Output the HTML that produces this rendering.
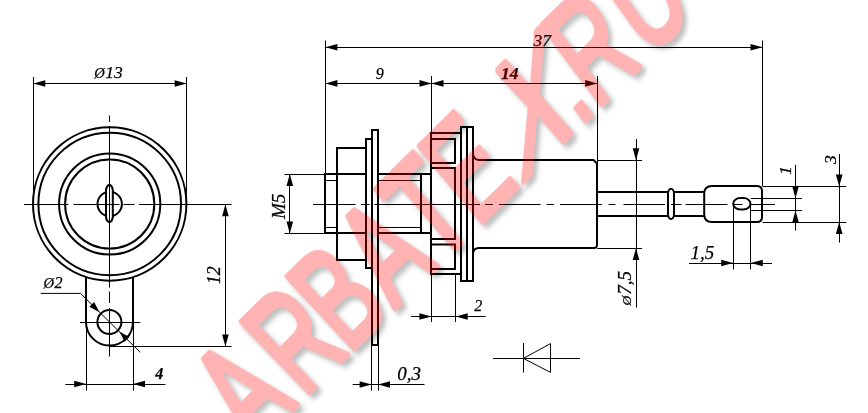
<!DOCTYPE html>
<html><head><meta charset="utf-8"><title>drawing</title>
<style>
html,body{margin:0;padding:0;background:#fff;}
body{width:868px;height:413px;overflow:hidden;position:relative;}
.wm{position:absolute;left:0;top:0;width:868px;height:413px;overflow:hidden;pointer-events:none;}
.wl{position:absolute;left:0;top:0;width:700px;height:200px;transform-origin:0 0;}
svg{display:block;}
#dw{will-change:transform;}
svg text.d{font-family:"Liberation Serif",serif;font-style:italic;fill:#000;stroke:#000;stroke-width:0.25px;}
svg text.w{font-family:"Liberation Sans",sans-serif;font-style:normal;}
</style></head><body>
<svg id="dw" width="868" height="413" viewBox="0 0 868 413" fill="none" stroke="#000" stroke-linecap="butt">
<rect x="0" y="0" width="868" height="413" fill="#fff" stroke="none"/>
<circle cx="109.7" cy="204.0" r="76.7" stroke-width="2.0"/>
<circle cx="109.7" cy="204.0" r="71.3" stroke-width="2.0"/>
<circle cx="109.7" cy="204.0" r="50.6" stroke-width="2.0"/>
<circle cx="109.7" cy="204.0" r="44.6" stroke-width="2.0"/>
<circle cx="109.7" cy="204.0" r="12.2" stroke-width="2.0"/>
<path d="M106 190 Q106.2 186 109.4 184.6 Q112.6 186 112.8 190 V217 Q112.6 221 109.4 222.4 Q106.2 221 106 217 Z" stroke-width="2.0" fill="#fff"/>
<line x1="24" y1="204.5" x2="68.5" y2="204.5" stroke-width="1.0" />
<line x1="73.5" y1="204.5" x2="119.5" y2="204.5" stroke-width="1.0" />
<line x1="123.5" y1="204.5" x2="134.5" y2="204.5" stroke-width="1.0" />
<line x1="139" y1="204.5" x2="231.5" y2="204.5" stroke-width="1.0" />
<line x1="109.5" y1="115.5" x2="109.5" y2="122" stroke-width="1.0" />
<line x1="109.5" y1="126" x2="109.5" y2="287.5" stroke-width="1.0" />
<line x1="109.5" y1="291.5" x2="109.5" y2="303" stroke-width="1.0" />
<line x1="109.5" y1="308" x2="109.5" y2="356.5" stroke-width="1.0" />
<path d="M86 277 V322 A23.5 23.5 0 0 0 133 322 V277" stroke-width="2.0"/>
<circle cx="109.4" cy="322" r="12" stroke-width="2.0"/>
<line x1="80" y1="322.5" x2="140.3" y2="322.5" stroke-width="1.0" />
<line x1="33.5" y1="77" x2="33.5" y2="204" stroke-width="1.0" />
<line x1="186.5" y1="77" x2="186.5" y2="204" stroke-width="1.0" />
<line x1="33.3" y1="83.5" x2="186.7" y2="83.5" stroke-width="1.0" />
<polygon points="33.3,83.5 45.3,80.2 45.3,86.8" fill="#000" stroke="none"/>
<polygon points="186.7,83.5 174.7,86.8 174.7,80.2" fill="#000" stroke="none"/>
<text class="d" x="94.3" y="78.4" font-size="17.5" font-weight="normal" text-anchor="start" ><tspan font-size="14.5">&#216;</tspan><tspan dx="0.5">13</tspan></text>
<polyline points="40.7,293.4 80.5,293.4 140.3,352.4" stroke-width="1.0"/>
<polygon points="99.5,312.2 89.4,306.8 94.1,302.1" fill="#000" stroke="none"/>
<polygon points="119.3,331.6 129.4,337.0 124.7,341.7" fill="#000" stroke="none"/>
<text class="d" x="43.6" y="287.6" font-size="16" font-weight="normal" text-anchor="start" ><tspan font-size="14.5">&#216;</tspan><tspan dx="0.3">2</tspan></text>
<line x1="110" y1="346.5" x2="231.5" y2="346.5" stroke-width="1.0" />
<line x1="225.5" y1="204" x2="225.5" y2="346.5" stroke-width="1.0" />
<polygon points="225.4,204.3 228.7,216.3 222.1,216.3" fill="#000" stroke="none"/>
<polygon points="225.4,346.5 222.1,334.5 228.7,334.5" fill="#000" stroke="none"/>
<text class="d" x="220.3" y="284.3" font-size="18" font-weight="normal" text-anchor="start" transform="rotate(-90 220.3 284.3)" >12</text>
<line x1="86.5" y1="322" x2="86.5" y2="390.5" stroke-width="1.0" />
<line x1="133.5" y1="322" x2="133.5" y2="390.5" stroke-width="1.0" />
<line x1="65.3" y1="384.5" x2="165.5" y2="384.5" stroke-width="1.0" />
<polygon points="86.2,384.0 74.2,387.3 74.2,380.7" fill="#000" stroke="none"/>
<polygon points="133.0,384.0 145.0,380.7 145.0,387.3" fill="#000" stroke="none"/>
<text class="d" x="155.3" y="379.4" font-size="16" font-weight="bold" text-anchor="start" >4</text>
<line x1="313" y1="204.5" x2="355.5" y2="204.5" stroke-width="1.0" />
<line x1="361" y1="204.5" x2="369.5" y2="204.5" stroke-width="1.0" />
<line x1="374.5" y1="204.5" x2="480" y2="204.5" stroke-width="1.0" />
<line x1="485" y1="204.5" x2="493" y2="204.5" stroke-width="1.0" />
<line x1="499" y1="204.5" x2="540.5" y2="204.5" stroke-width="1.0" />
<line x1="546.5" y1="204.5" x2="554" y2="204.5" stroke-width="1.0" />
<line x1="560" y1="204.5" x2="602" y2="204.5" stroke-width="1.0" />
<line x1="608.5" y1="204.5" x2="615.5" y2="204.5" stroke-width="1.0" />
<line x1="623.5" y1="204.5" x2="665" y2="204.5" stroke-width="1.0" />
<line x1="671" y1="204.5" x2="681.5" y2="204.5" stroke-width="1.0" />
<line x1="685.5" y1="204.5" x2="727.5" y2="204.5" stroke-width="1.0" />
<line x1="733.5" y1="204.5" x2="742.5" y2="204.5" stroke-width="1.0" />
<line x1="751" y1="204.5" x2="775" y2="204.5" stroke-width="1.0" />
<path d="M337 174 H325 V233 H337" stroke-width="2.0"/>
<line x1="325" y1="180.5" x2="337" y2="180.5" stroke-width="1.0" />
<line x1="325" y1="227.5" x2="337" y2="227.5" stroke-width="1.0" />
<rect x="337" y="148" width="29" height="112" stroke-width="2.0"/>
<line x1="337" y1="174.0" x2="366" y2="174.0" stroke-width="2.0" />
<line x1="337" y1="233.0" x2="366" y2="233.0" stroke-width="2.0" />
<rect x="366" y="139" width="6" height="129" stroke-width="2.0"/>
<rect x="372" y="130" width="6" height="215" stroke-width="2.0"/>
<path d="M378 174 H421 V233 H378" stroke-width="2.0"/>
<line x1="378" y1="180.5" x2="421" y2="180.5" stroke-width="1.0" />
<line x1="378" y1="227.5" x2="421" y2="227.5" stroke-width="1.0" />
<line x1="421" y1="174.0" x2="431" y2="174.0" stroke-width="2.0" />
<line x1="421" y1="233.0" x2="431" y2="233.0" stroke-width="2.0" />
<path d="M461 133 H431 V274 H461" stroke-width="2.0"/>
<rect x="431" y="139" width="24" height="24" stroke-width="2.0"/>
<rect x="431" y="244.5" width="24" height="24.5" stroke-width="2.0"/>
<path d="M431 168 H455 V239 H431" stroke-width="2.0"/>
<rect x="461" y="127" width="12" height="154" stroke-width="2.0"/>
<line x1="467.0" y1="127" x2="467.0" y2="281" stroke-width="2.0" />
<path d="M473 154 Q473.5 160 479.5 160 H593.5 L597 163.5 V245 Q597 248 594 248 H479 Q473.5 248 473 253.5" stroke-width="2.0"/>
<line x1="597" y1="192.0" x2="668" y2="192.0" stroke-width="2.0" />
<line x1="597" y1="216.0" x2="668" y2="216.0" stroke-width="2.0" />
<rect x="668" y="188.8" width="6" height="30.2" rx="3" ry="5" stroke-width="2.0"/>
<line x1="674" y1="192.0" x2="704" y2="192.0" stroke-width="2.0" />
<line x1="674" y1="216.0" x2="704" y2="216.0" stroke-width="2.0" />
<path d="M712 186 H757 Q762 186 762 191 V217 Q762 222 757 222 H712 Q704.2 222 704.2 214.2 V193.8 Q704.2 186 712 186 Z" stroke-width="2.0"/>
<rect x="733.2" y="198" width="17.3" height="11.4" rx="7" ry="5.7" stroke-width="2.0"/>
<line x1="325.5" y1="40.5" x2="325.5" y2="174" stroke-width="1.0" />
<line x1="762.5" y1="40.5" x2="762.5" y2="186" stroke-width="1.0" />
<line x1="325.4" y1="47.5" x2="762.5" y2="47.5" stroke-width="1.0" />
<polygon points="325.4,47.3 337.4,44.0 337.4,50.6" fill="#000" stroke="none"/>
<polygon points="762.5,47.3 750.5,50.6 750.5,44.0" fill="#000" stroke="none"/>
<text class="d" x="533.5" y="45.5" font-size="17.5" font-weight="normal" text-anchor="start" >37</text>
<line x1="431.5" y1="76" x2="431.5" y2="132.8" stroke-width="1.0" />
<line x1="597.5" y1="76" x2="597.5" y2="163" stroke-width="1.0" />
<line x1="325.4" y1="83.5" x2="597.2" y2="83.5" stroke-width="1.0" />
<polygon points="325.4,83.4 337.4,80.1 337.4,86.7" fill="#000" stroke="none"/>
<polygon points="431.5,83.4 419.5,86.7 419.5,80.1" fill="#000" stroke="none"/>
<polygon points="431.5,83.4 443.5,80.1 443.5,86.7" fill="#000" stroke="none"/>
<polygon points="597.2,83.4 585.2,86.7 585.2,80.1" fill="#000" stroke="none"/>
<text class="d" x="375.8" y="78.6" font-size="16" font-weight="normal" text-anchor="start" >9</text>
<text class="d" x="501" y="78.6" font-size="17.5" font-weight="bold" text-anchor="start" >14</text>
<line x1="284.5" y1="174.5" x2="325.4" y2="174.5" stroke-width="1.0" />
<line x1="284.5" y1="233.5" x2="325.4" y2="233.5" stroke-width="1.0" />
<line x1="289.5" y1="174" x2="289.5" y2="233.4" stroke-width="1.0" />
<polygon points="289.8,174.0 293.1,186.0 286.5,186.0" fill="#000" stroke="none"/>
<polygon points="289.8,233.4 286.5,221.4 293.1,221.4" fill="#000" stroke="none"/>
<text class="d" x="285" y="219" font-size="19" font-weight="normal" text-anchor="start" transform="rotate(-90 285 219)" >M5</text>
<line x1="371.5" y1="345" x2="371.5" y2="390.5" stroke-width="1.0" />
<line x1="378.5" y1="345" x2="378.5" y2="390.5" stroke-width="1.0" />
<line x1="352.7" y1="384.5" x2="424.5" y2="384.5" stroke-width="1.0" />
<polygon points="371.6,384.5 359.6,387.8 359.6,381.2" fill="#000" stroke="none"/>
<polygon points="378.0,384.5 390.0,381.2 390.0,387.8" fill="#000" stroke="none"/>
<text class="d" x="397.3" y="379.5" font-size="19" font-weight="normal" text-anchor="start" >0,3</text>
<line x1="431.5" y1="274" x2="431.5" y2="322" stroke-width="1.0" />
<line x1="455.5" y1="274" x2="455.5" y2="322" stroke-width="1.0" />
<line x1="411" y1="316.5" x2="485.6" y2="316.5" stroke-width="1.0" />
<polygon points="431.4,316.5 419.4,319.8 419.4,313.2" fill="#000" stroke="none"/>
<polygon points="455.7,316.5 467.7,313.2 467.7,319.8" fill="#000" stroke="none"/>
<text class="d" x="474.2" y="311.4" font-size="16" font-weight="normal" text-anchor="start" >2</text>
<line x1="597.2" y1="160.5" x2="642" y2="160.5" stroke-width="1.0" />
<line x1="597.2" y1="248.5" x2="642" y2="248.5" stroke-width="1.0" />
<line x1="636.5" y1="139" x2="636.5" y2="307.5" stroke-width="1.0" />
<polygon points="636.0,160.2 632.7,148.2 639.3,148.2" fill="#000" stroke="none"/>
<polygon points="636.0,248.0 639.3,260.0 632.7,260.0" fill="#000" stroke="none"/>
<text class="d" x="631.3" y="305.5" font-size="19" font-weight="normal" text-anchor="start" transform="rotate(-90 631.3 305.5)" ><tspan font-size="13.5">&#216;</tspan><tspan dx="1">7,5</tspan></text>
<line x1="733.5" y1="204" x2="733.5" y2="269.5" stroke-width="1.0" />
<line x1="750.5" y1="204" x2="750.5" y2="269.5" stroke-width="1.0" />
<line x1="689" y1="263.5" x2="772" y2="263.5" stroke-width="1.0" />
<polygon points="733.2,263.0 721.2,266.3 721.2,259.7" fill="#000" stroke="none"/>
<polygon points="750.8,263.0 762.8,259.7 762.8,266.3" fill="#000" stroke="none"/>
<text class="d" x="690.5" y="258.6" font-size="19" font-weight="normal" text-anchor="start" >1,5</text>
<line x1="750.8" y1="198.5" x2="802" y2="198.5" stroke-width="1.0" />
<line x1="750.8" y1="210.5" x2="802" y2="210.5" stroke-width="1.0" />
<line x1="795.5" y1="164.8" x2="795.5" y2="230.5" stroke-width="1.0" />
<polygon points="795.5,198.2 792.2,186.2 798.8,186.2" fill="#000" stroke="none"/>
<polygon points="795.5,210.6 798.8,222.6 792.2,222.6" fill="#000" stroke="none"/>
<text class="d" x="790.6" y="175" font-size="17.5" font-weight="normal" text-anchor="start" transform="rotate(-90 790.6 175)" >1</text>
<line x1="762.5" y1="186.5" x2="846.3" y2="186.5" stroke-width="1.0" />
<line x1="762.5" y1="222.5" x2="846.3" y2="222.5" stroke-width="1.0" />
<line x1="839.5" y1="154" x2="839.5" y2="242.5" stroke-width="1.0" />
<polygon points="839.2,186.4 835.9,174.4 842.5,174.4" fill="#000" stroke="none"/>
<polygon points="839.2,222.1 842.5,234.1 835.9,234.1" fill="#000" stroke="none"/>
<text class="d" x="836" y="164" font-size="17.5" font-weight="normal" text-anchor="start" transform="rotate(-90 836 164)" >3</text>
<line x1="493" y1="358.5" x2="580" y2="358.5" stroke-width="1.0" />
<line x1="523.5" y1="343" x2="523.5" y2="372.5" stroke-width="1.0" />
<path d="M523.4 358.4 L550.5 343.6 V372.4 Z" stroke-width="1"/>
</svg>
<div class="wm" style="opacity:0.3"><div class="wl" style="transform:translate(4px,4px) matrix3d(0.74350191,-0.73319247,0,-7.0843611e-19,0.8005946,0.85183487,0,0.00031193609,0,0,1,0,151.68795,345.94542,0,1);opacity:0.85;filter:blur(2.5px)"><svg width="700" height="200" viewBox="0 0 700 200" style="overflow:visible;display:block"><defs><clipPath id="cas"><rect x="-50" y="-50" width="455.3" height="300"/><rect x="474" y="-50" width="400" height="300"/></clipPath><clipPath id="cbs"><rect x="405.3" y="-50" width="68.69999999999999" height="300"/></clipPath></defs><text class="w" x="0 76 144 214 281 340 406 496 522 602" y="100" font-size="100" font-weight="normal" fill="#000" stroke="#000" stroke-width="6" stroke-linejoin="round" stroke-linecap="round" vector-effect="non-scaling-stroke" transform="scale(0.9200,1.4172)" clip-path="url(#cas)">ARBATEX.RU</text><text class="w" x="0 76 144 214 281 340 406 496 522 602" y="100" font-size="100" font-weight="normal" fill="#000" stroke="#000" stroke-width="6" stroke-linejoin="round" stroke-linecap="round" vector-effect="non-scaling-stroke" transform="scale(0.9200,1.4172) matrix(1.1900,0,-0.7290,1,-2.336,0)" clip-path="url(#cbs)">ARBATEX.RU</text></svg></div><div class="wl" style="transform:matrix3d(0.74350191,-0.73319247,0,-7.0843611e-19,0.8005946,0.85183487,0,0.00031193609,0,0,1,0,151.68795,345.94542,0,1)"><svg width="700" height="200" viewBox="0 0 700 200" style="overflow:visible;display:block"><defs><clipPath id="car"><rect x="-50" y="-50" width="455.3" height="300"/><rect x="474" y="-50" width="400" height="300"/></clipPath><clipPath id="cbr"><rect x="405.3" y="-50" width="68.69999999999999" height="300"/></clipPath></defs><text class="w" x="0 76 144 214 281 340 406 496 522 602" y="100" font-size="100" font-weight="normal" fill="#ff0000" stroke="#ff0000" stroke-width="6" stroke-linejoin="round" stroke-linecap="round" vector-effect="non-scaling-stroke" transform="scale(0.9200,1.4172)" clip-path="url(#car)">ARBATEX.RU</text><text class="w" x="0 76 144 214 281 340 406 496 522 602" y="100" font-size="100" font-weight="normal" fill="#ff0000" stroke="#ff0000" stroke-width="6" stroke-linejoin="round" stroke-linecap="round" vector-effect="non-scaling-stroke" transform="scale(0.9200,1.4172) matrix(1.1900,0,-0.7290,1,-2.336,0)" clip-path="url(#cbr)">ARBATEX.RU</text></svg></div></div>
</body></html>
